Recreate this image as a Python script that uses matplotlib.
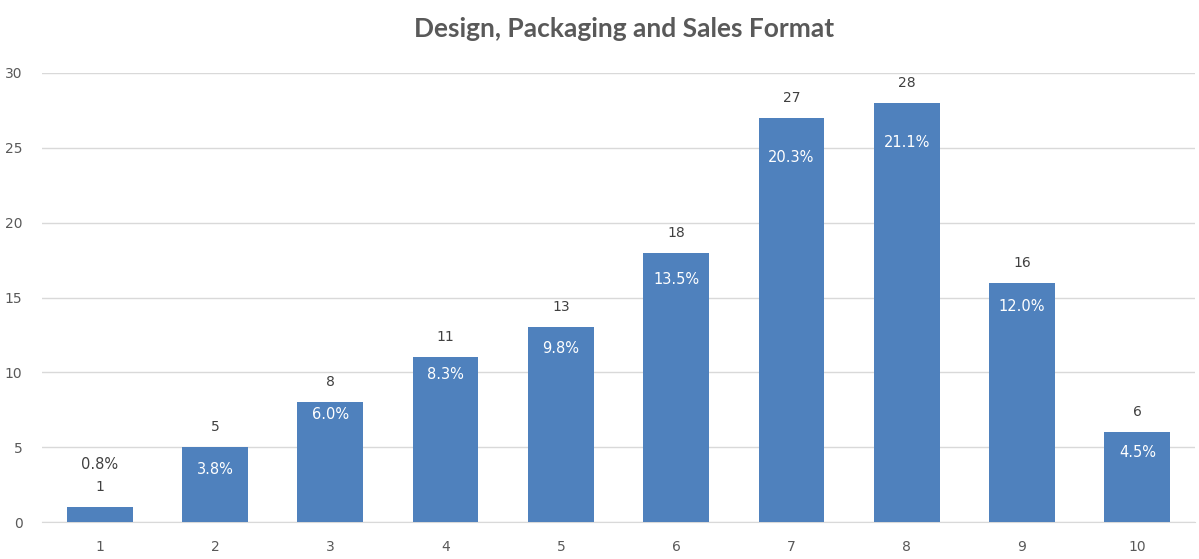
import matplotlib
matplotlib.use("Agg")
import matplotlib.pyplot as plt

# Ratings distribution for the "Design, Packaging and Sales Format" question
scores = [1, 2, 3, 4, 5, 6, 7, 8, 9, 10]
counts = [1, 5, 8, 11, 13, 18, 27, 28, 16, 6]
shares = ["0.8%", "3.8%", "6.0%", "8.3%", "9.8%", "13.5%", "20.3%", "21.1%", "12.0%", "4.5%"]
y_ticks = [0, 5, 10, 15, 20, 25, 30]
title = "Design, Packaging and Sales Format"

# vertical placement (pixels below the bar top) of each percentage label
share_offsets_px = [-43, 22, 12, 17, 21, 27, 40, 40, 24, 20]

BAR = "#4F81BD"
GRID = "#D9D9D9"
TEXT = "#595959"

W, H, DPI = 1199, 559, 100
fig = plt.figure(figsize=(W / DPI, H / DPI), dpi=DPI)
ax = fig.add_axes([42 / W, 1 - 522 / H, (1195 - 42) / W, (522 - 73) / H])

bars = ax.bar(scores, counts, width=0.57, color=BAR, zorder=3)

ax.set_xlim(0.5, 10.5)
ax.set_ylim(0, 30)
ax.set_yticks(y_ticks)
ax.set_xticks(scores)
ax.grid(axis="y", color=GRID, linewidth=1.0, zorder=0)
for s in ["top", "right", "left"]:
    ax.spines[s].set_visible(False)
ax.spines["bottom"].set_color(GRID)
ax.tick_params(axis="both", length=0, labelsize=10, labelcolor=TEXT)
ax.tick_params(axis="x", pad=13)
ax.tick_params(axis="y", pad=14)

pt = 72 / DPI
for x, c, s, off in zip(scores, counts, shares, share_offsets_px):
    ax.annotate(str(c), (x, c), xytext=(0, 20 * pt), textcoords="offset points",
                ha="center", va="center", fontsize=10, color="#404040", zorder=4)
    col = "#404040" if off < 0 else "white"
    ax.annotate(s, (x, c), xytext=(0, -off * pt), textcoords="offset points",
                ha="center", va="center", fontsize=10.5, color=col, zorder=4)

fig.text(624 / W, 1 - 29 / H, title, ha="center", va="center", fontsize=19,
         fontweight="bold", color=TEXT, family="Lato")

fig.savefig("out.png", dpi=DPI, facecolor="white")
